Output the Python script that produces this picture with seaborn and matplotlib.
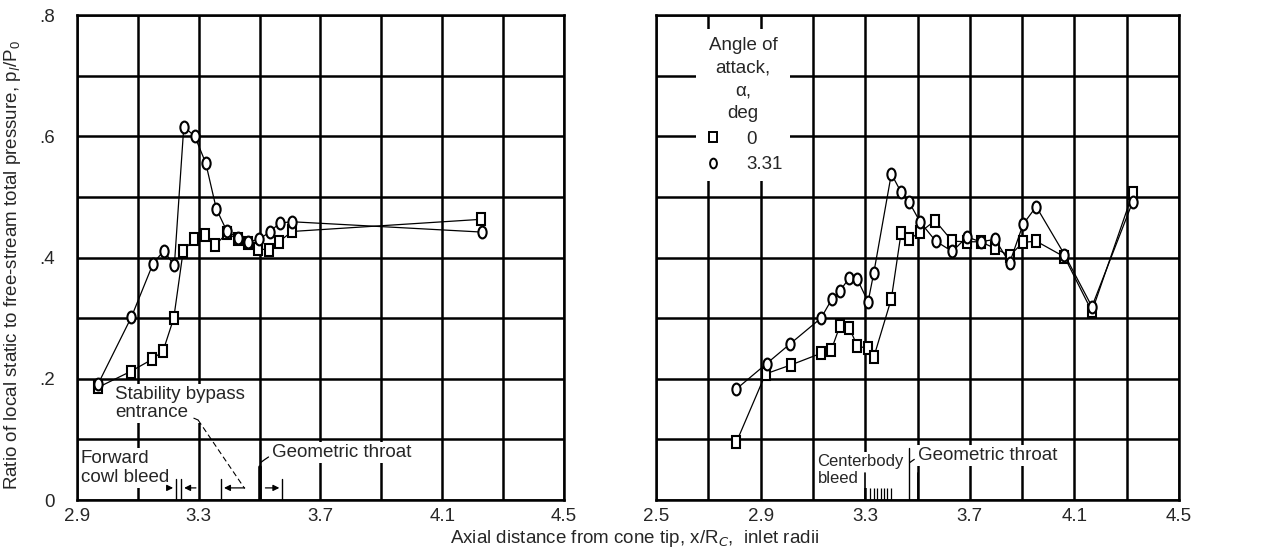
import numpy as np
import pandas as pd
import matplotlib
matplotlib.use("Agg")
import matplotlib.pyplot as plt
import seaborn as sns
from matplotlib.lines import Line2D
from matplotlib.markers import MarkerStyle
from matplotlib.transforms import Affine2D

# --- data ---
# left panel (alpha = 0 -> squares, alpha = 3.31 -> circles)
left_x_a0 = [2.970, 3.076, 3.147, 3.183, 3.218, 3.249, 3.284, 3.320, 3.355,
             3.393, 3.429, 3.462, 3.495, 3.530, 3.563, 3.607, 4.227]
left_y_a0 = [0.186, 0.212, 0.232, 0.246, 0.300, 0.411, 0.430, 0.437, 0.421,
             0.440, 0.430, 0.424, 0.414, 0.413, 0.426, 0.443, 0.463]
left_x_a331 = [2.970, 3.079, 3.150, 3.185, 3.220, 3.251, 3.287, 3.323, 3.358,
               3.393, 3.429, 3.462, 3.498, 3.533, 3.566, 3.607, 4.230]
left_y_a331 = [0.192, 0.302, 0.390, 0.411, 0.387, 0.616, 0.600, 0.556, 0.480,
               0.443, 0.433, 0.426, 0.430, 0.442, 0.457, 0.459, 0.442]

# right panel
right_x_a0 = [2.807, 2.919, 3.017, 3.131, 3.170, 3.203, 3.239, 3.270, 3.311,
              3.333, 3.400, 3.437, 3.467, 3.511, 3.567, 3.633, 3.689, 3.741,
              3.797, 3.852, 3.904, 3.954, 4.062, 4.167, 4.323]
right_y_a0 = [0.095, 0.208, 0.223, 0.242, 0.247, 0.287, 0.284, 0.254, 0.250,
              0.236, 0.332, 0.440, 0.430, 0.442, 0.461, 0.427, 0.426, 0.426,
              0.415, 0.403, 0.425, 0.427, 0.401, 0.311, 0.506]
right_x_a331 = [2.807, 2.923, 3.014, 3.131, 3.172, 3.203, 3.239, 3.270, 3.311,
                3.333, 3.400, 3.437, 3.467, 3.511, 3.570, 3.633, 3.689, 3.741,
                3.797, 3.852, 3.904, 3.954, 4.062, 4.167, 4.323]
right_y_a331 = [0.183, 0.225, 0.258, 0.300, 0.331, 0.345, 0.366, 0.364, 0.327,
                0.375, 0.538, 0.508, 0.492, 0.458, 0.427, 0.410, 0.434, 0.426,
                0.430, 0.391, 0.455, 0.484, 0.405, 0.319, 0.492]

alpha_labels = ["0", "3.31"]
y_major = [0, 0.2, 0.4, 0.6, 0.8]
y_labels = ["0", ".2", ".4", ".6", ".8"]
left_xmajor = [2.9, 3.3, 3.7, 4.1, 4.5]
right_xmajor = [2.5, 2.9, 3.3, 3.7, 4.1, 4.5]
left_xlabels = ["2.9", "3.3", "3.7", "4.1", "4.5"]
right_xlabels = ["2.5", "2.9", "3.3", "3.7", "4.1", "4.5"]

# annotation stations (x/R_C)
cowl_bleed = (3.225, 3.243)
bypass = (3.374, 3.574)
left_throat = 3.50
centerbody_bleed = [3.320, 3.333, 3.346, 3.359, 3.372, 3.385, 3.398]
right_throat = 3.468

sns.set_style("white")
plt.rcParams["font.family"] = ["Liberation Sans", "DejaVu Sans"]
plt.rcParams["mathtext.fontset"] = "custom"
plt.rcParams["mathtext.rm"] = "Liberation Sans"
plt.rcParams["font.size"] = 13

FS = 13.5
sq = MarkerStyle("s", transform=Affine2D().scale(0.75, 1.0))
ci = MarkerStyle("o", transform=Affine2D().scale(0.7, 1.0))

fig = plt.figure(figsize=(12.87, 5.59), dpi=100)
ax1 = fig.add_axes([0.0598, 0.1055, 0.3784, 0.8676])
ax2 = fig.add_axes([0.5097, 0.1055, 0.4064, 0.8676])


def draw_series(ax, xs, ys, marker):
    df = pd.DataFrame({"x": xs, "y": ys})
    sns.lineplot(data=df, x="x", y="y", ax=ax, sort=False, color="black",
                 linewidth=0.9, marker=marker, markersize=8.5,
                 markerfacecolor="white", markeredgecolor="black",
                 markeredgewidth=1.5, legend=False, zorder=4)


def style_axes(ax, xlim, xmajor, xlabels, show_y):
    ax.set_xlim(*xlim)
    ax.set_ylim(0, 0.8)
    ax.set_xticks(xmajor)
    ax.set_xticklabels(xlabels)
    ax.set_xticks(np.arange(xlim[0] + 0.2, xlim[1], 0.4), minor=True)
    ax.set_yticks(y_major)
    ax.set_yticks(np.arange(0.1, 0.8, 0.2), minor=True)
    if show_y:
        ax.set_yticklabels(y_labels)
    else:
        ax.set_yticklabels([])
    ax.grid(True, which="both", color="black", linewidth=1.8)
    ax.tick_params(which="both", length=0, labelsize=FS)
    ax.tick_params(axis="y", pad=16)
    ax.tick_params(axis="x", pad=6)
    for s in ax.spines.values():
        s.set_color("black")
        s.set_linewidth(1.8)
    ax.set_xlabel("")
    ax.set_ylabel("")


draw_series(ax1, left_x_a0, left_y_a0, sq)
draw_series(ax1, left_x_a331, left_y_a331, ci)
draw_series(ax2, right_x_a0, right_y_a0, sq)
draw_series(ax2, right_x_a331, right_y_a331, ci)

style_axes(ax1, (2.9, 4.5), left_xmajor, left_xlabels, True)
style_axes(ax2, (2.5, 4.5), right_xmajor, right_xlabels, False)

wbox = dict(facecolor="white", edgecolor="none", pad=1.5)
arrow_kw = dict(arrowstyle="-|>", color="black", lw=0.9, mutation_scale=9)

# --- left panel notes ---
ax1.text(2.912, 0.082, "Forward\ncowl bleed", ha="left", va="top",
         fontsize=FS, bbox=wbox, zorder=6, linespacing=1.1)
ax1.text(3.025, 0.188, "Stability bypass\nentrance", ha="left", va="top",
         fontsize=FS, bbox=wbox, zorder=6, linespacing=1.1)
for xb in cowl_bleed + bypass:
    ax1.plot([xb, xb], [0, 0.035], color="black", lw=1.0, zorder=6)
ax1.annotate("", xy=(cowl_bleed[0], 0.02), xytext=(3.19, 0.02),
             arrowprops=arrow_kw, zorder=6)
ax1.annotate("", xy=(cowl_bleed[1], 0.02), xytext=(3.30, 0.02),
             arrowprops=arrow_kw, zorder=6)
ax1.annotate("", xy=(bypass[0], 0.02), xytext=(3.46, 0.02),
             arrowprops=arrow_kw, zorder=6)
ax1.annotate("", xy=(bypass[1], 0.02), xytext=(3.51, 0.02),
             arrowprops=arrow_kw, zorder=6)
ax1.plot([3.284, 3.298], [0.135, 0.132], color="black", lw=0.8, zorder=6)
ax1.plot([3.298, 3.451], [0.132, 0.019], color="black", lw=0.8,
         linestyle=(0, (5, 3)), zorder=6)
ax1.plot([left_throat, left_throat], [0, 0.055], color="black", lw=2.6, zorder=6)
ax1.plot([left_throat, left_throat], [0.055, 0.095], color="black", lw=1.0, zorder=6)
ax1.annotate("Geometric throat", xy=(left_throat + 0.004, 0.062),
             xytext=(3.54, 0.078), ha="left", va="center", fontsize=FS,
             bbox=wbox, zorder=6,
             arrowprops=dict(arrowstyle="-", color="black", lw=0.9,
                             shrinkA=1, shrinkB=0,
                             connectionstyle="arc3,rad=0.3"))

# --- right panel notes ---
ax2.text(3.118, 0.076, "Centerbody\nbleed", ha="left", va="top",
         fontsize=FS - 1.5, bbox=wbox, zorder=6, linespacing=1.2)
ax2.plot([3.30, 3.30], [0, 0.045], color="black", lw=1.2, zorder=7)
ax2.vlines(centerbody_bleed, 0, 0.02, color="black", lw=0.9, zorder=7)
ax2.plot([right_throat, right_throat], [0, 0.086], color="black", lw=1.0, zorder=7)
ax2.plot([3.5, 3.5], [0, 0.045], color="black", lw=1.2, zorder=7)
ax2.annotate("Geometric throat", xy=(right_throat + 0.003, 0.062),
             xytext=(3.50, 0.074), ha="left", va="center", fontsize=FS,
             bbox=wbox, zorder=6,
             arrowprops=dict(arrowstyle="-", color="black", lw=0.9,
                             shrinkA=1, shrinkB=0,
                             connectionstyle="arc3,rad=0.3"))

# legend
handles = [Line2D([], [], linestyle="none", marker=sq, markersize=7,
                  markerfacecolor="white", markeredgecolor="black",
                  markeredgewidth=1.4),
           Line2D([], [], linestyle="none", marker=ci, markersize=7,
                  markerfacecolor="white", markeredgecolor="black",
                  markeredgewidth=1.4)]
leg = ax2.legend(handles, alpha_labels, title="Angle of\nattack,\nα,\ndeg",
                 loc="upper left", bbox_to_anchor=(0.058, 0.99),
                 frameon=True, facecolor="white", edgecolor="none",
                 framealpha=1.0, fancybox=False, fontsize=FS,
                 title_fontsize=FS, handlelength=1.0, handletextpad=1.3,
                 labelspacing=0.45, borderpad=0.4, alignment="center")
leg.get_title().set_multialignment("center")
leg.get_title().set_linespacing(1.45)
leg.set_zorder(8)

fig.text(0.010, 0.526,
         "Ratio of local static to free-stream total pressure, p$_l$/P$_0$",
         rotation=90, ha="center", va="center", fontsize=FS)
fig.text(0.493, 0.036, "Axial distance from cone tip, x/R$_C$,  inlet radii",
         ha="center", va="center", fontsize=FS)

plt.savefig("out.png", dpi=100)
plt.close()
